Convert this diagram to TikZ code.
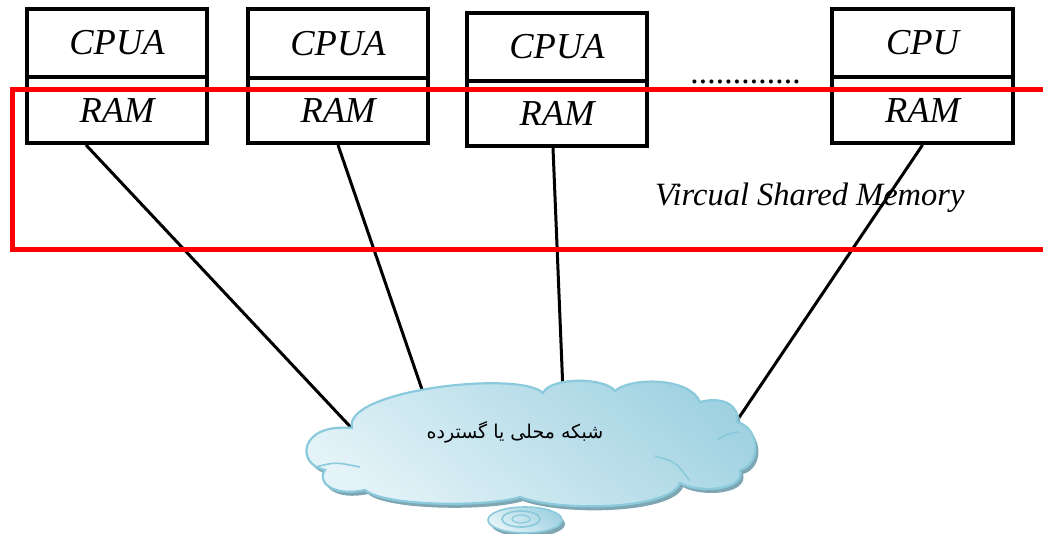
\documentclass[tikz,border=0pt]{standalone}
\usepackage{fontspec}
\setmainfont{Liberation Serif}
\newfontfamily\arabicfont[Script=Arabic]{DejaVu Sans}
\TeXXeTstate=1
\usetikzlibrary{calc}
\definecolor{cloudlight}{HTML}{E4F3F8}
\definecolor{clouddark}{HTML}{A0D2E1}
\definecolor{cloudedge}{HTML}{8ACADC}
\definecolor{cloudshadow}{HTML}{7FA6B3}
\definecolor{vsmred}{HTML}{FF0000}
\newcommand\lancloudpath{(352,428)
 .. controls (342,390) and (520,370) .. (543,393)
 .. controls (550,377) and (605,377) .. (615,391)
 .. controls (630,377) and (690,377) .. (700,402)
 .. controls (722,396) and (740,405) .. (737,422)
 .. controls (760,428) and (762,464) .. (740,470)
 .. controls (746,490) and (700,494) .. (680,483)
 .. controls (670,510) and (560,512) .. (520,497)
 .. controls (490,507) and (385,507) .. (365,490)
 .. controls (333,497) and (316,482) .. (325,470)
 .. controls (296,465) and (298,423) .. (352,428) -- cycle}
\begin{document}
\begin{tikzpicture}[x=1pt,y=-1pt,
  unit/.style={draw=black, line width=4pt, minimum width=180pt, inner sep=0pt,
    font=\fontsize{36.5}{42}\selectfont\itshape},
  link/.style={line width=3pt, black},
  vsm/.style={draw=vsmred, line width=5pt},
  cloudfill/.style={top color=clouddark, bottom color=cloudlight, shading angle=-40},
  cloudstroke/.style={draw=cloudedge, line width=2.2pt},
  label/.style={font=\fontsize{32.5}{38}\selectfont\itshape, inner sep=0pt}]
\useasboundingbox (0,0) rectangle (1043,534);
% units
\node[unit, minimum height=68pt] (cpu1) at (117,43) {CPUA};
\node[unit, minimum height=66pt] (ram1) at (117,110) {RAM};
\node[unit, minimum height=69pt] (cpu2) at (338,43.5) {CPUA};
\node[unit, minimum height=65pt] (ram2) at (338,110.5) {RAM};
\node[unit, minimum height=68pt] (cpu3) at (557,47) {CPUA};
\node[unit, minimum height=65pt] (ram3) at (557,113.5) {RAM};
\node[unit, minimum width=181pt, minimum height=68pt] (cpu4) at (922.5,43) {CPU};
\node[unit, minimum width=181pt, minimum height=66pt] (ram4) at (922.5,110) {RAM};
\node[label, anchor=base west, font=\fontsize{34}{40}\selectfont\itshape] (dots) at (691,84) {.............};
\node[label, anchor=base west] (vsmlabel) at (655,206) {Vircual Shared Memory};
% attachment points on the cloud
\coordinate (c1) at (359,436);
\coordinate (c2) at (427,404);
\coordinate (c3) at (563,392);
\coordinate (c4) at (732,428);
\draw[link] ([xshift=-31pt]ram1.south) -- (c1);
\draw[link] (ram2.south) -- (c2);
\draw[link] ([xshift=-4pt]ram3.south) -- (c3);
\draw[link] (ram4.south) -- (c4);
% virtual shared memory frame
\coordinate (vtr) at (1050,90);
\coordinate (vtl) at (12,90);
\coordinate (vbl) at (12,250);
\coordinate (vbr) at (1050,250);
\draw[vsm] (vtr) -- (vtl) -- (vbl) -- (vbr);
% cloud
\fill[cloudshadow, shift={(3,4)}] \lancloudpath;
\fill[cloudshadow] (528,524) ellipse [x radius=37, y radius=13];
\shade[cloudfill] \lancloudpath;
\draw[cloudstroke] \lancloudpath;
\draw[cloudedge, line width=1.6pt] (316,467) .. controls (335,462) .. (360,467);
\draw[cloudedge, line width=1.6pt] (717,440) .. controls (726,434) .. (739,432);
\draw[cloudedge, line width=1.6pt] (655,456) .. controls (676,462) .. (690,481);
\shade[cloudfill, draw=cloudedge, line width=1.6pt] (525,520) ellipse [x radius=37, y radius=13];
\draw[cloudedge, line width=1.6pt] (521,519) ellipse [x radius=19, y radius=8];
\draw[cloudedge, line width=1.2pt] (521,519) ellipse [x radius=9, y radius=4];
\node[inner sep=0pt] (net) at (515,432) {\arabicfont\fontsize{19}{22}\selectfont\beginR شبکه محلی یا گسترده\endR};
\end{tikzpicture}
\end{document}
